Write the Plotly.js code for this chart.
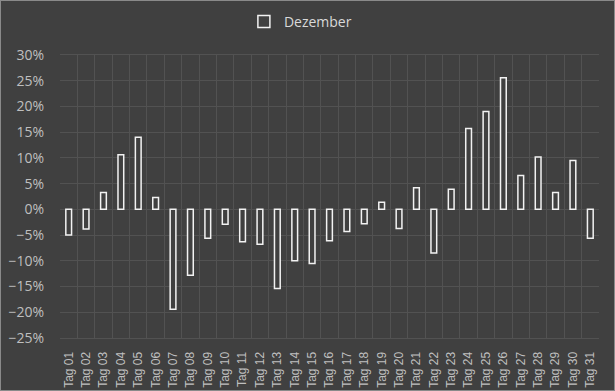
<!DOCTYPE html>
<html>
<head>
<meta charset="utf-8">
<script src="https://cdn.plot.ly/plotly-3.0.1.min.js"></script>
<style>
html,body{margin:0;padding:0;background:#404040;}
#wrap{width:613px;height:389px;border:1px solid #8a8a8a;overflow:hidden;}
#chart{width:615px;height:391px;margin:-1px 0 0 -1px;}
</style>
</head>
<body>
<div id="wrap"><div id="chart"></div></div>
<script>
const days = ["Tag 01","Tag 02","Tag 03","Tag 04","Tag 05","Tag 06","Tag 07","Tag 08","Tag 09","Tag 10",
  "Tag 11","Tag 12","Tag 13","Tag 14","Tag 15","Tag 16","Tag 17","Tag 18","Tag 19","Tag 20",
  "Tag 21","Tag 22","Tag 23","Tag 24","Tag 25","Tag 26","Tag 27","Tag 28","Tag 29","Tag 30","Tag 31"];
const dezember = [-0.050,-0.038,0.033,0.106,0.140,0.023,-0.194,-0.128,-0.056,-0.029,
  -0.063,-0.068,-0.154,-0.100,-0.105,-0.061,-0.043,-0.028,0.014,-0.037,
  0.042,-0.085,0.039,0.157,0.190,0.256,0.066,0.102,0.033,0.095,-0.056];
const seriesName = "Dezember";
const yTicks = [-0.25,-0.20,-0.15,-0.10,-0.05,0,0.05,0.10,0.15,0.20,0.25,0.30];

const trace = {
  type: 'bar', x: days, y: dezember, name: seriesName,
  width: 0.33,
  marker: {color: '#404040', line: {color: '#f2f2f2', width: 1.5}},
  showlegend: true
};
const layout = {
  width: 615, height: 391,
  paper_bgcolor: '#404040', plot_bgcolor: '#404040',
  margin: {l: 60, r: 16, t: 55, b: 53},
  font: {family: 'Open Sans, sans-serif', color: '#bfbfbf', size: 12},
  showlegend: true,
  legend: {orientation: 'h', x: 0.446, xanchor: 'center', y: 0.985, yref: 'container', yanchor: 'top',
    font: {size: 14, color: '#d9d9d9'}, bgcolor: 'rgba(0,0,0,0)'},
  bargap: 0,
  xaxis: {type: 'category', tickson: 'boundaries', showgrid: true, gridcolor: '#525252', gridwidth: 1,
    ticks: '', tickangle: -90, tickfont: {family: 'Liberation Sans, sans-serif', size: 12, color: '#bfbfbf'},
    showline: true, linecolor: '#525252', mirror: true, zeroline: false, ticklabelstandoff: 8},
  yaxis: {range: [-0.25, 0.30], tickvals: yTicks, tickformat: '.0%', showgrid: true, gridcolor: '#525252', gridwidth: 1,
    zeroline: false, ticks: '', tickfont: {size: 14, color: '#bfbfbf'}, ticklabelstandoff: 15, showline: false}
};
Plotly.newPlot('chart', [trace], layout, {displayModeBar: false, staticPlot: true});
</script>
</body>
</html>
